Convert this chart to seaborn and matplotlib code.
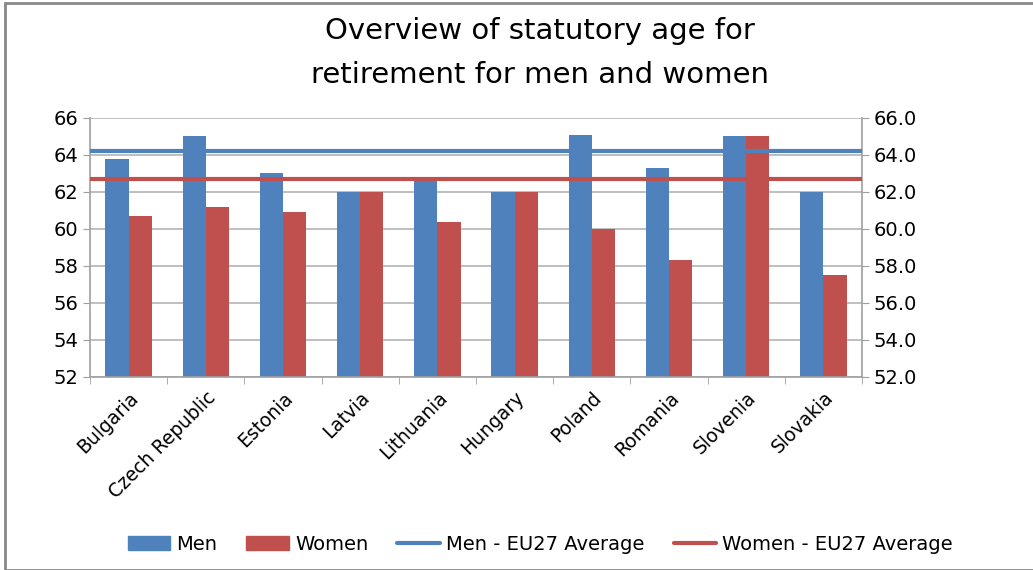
import numpy as np
import pandas as pd
import matplotlib
matplotlib.use("Agg")
import matplotlib.pyplot as plt
from matplotlib.patches import Patch, Rectangle
from matplotlib.lines import Line2D
import seaborn as sns

countries = ['Bulgaria', 'Czech Republic', 'Estonia', 'Latvia', 'Lithuania',
             'Hungary', 'Poland', 'Romania', 'Slovenia', 'Slovakia']
men = [63.8, 65.0, 63.0, 62.0, 62.8, 62.0, 65.1, 63.3, 65.0, 62.0]
women = [60.7, 61.2, 60.9, 62.0, 60.4, 62.0, 60.0, 58.3, 65.0, 57.5]
men_eu27 = 64.2
women_eu27 = 62.7

blue = '#4F81BD'
red = '#C0504D'

df = pd.DataFrame({'Country': countries * 2,
                   'Age': men + women,
                   'Sex': ['Men'] * len(countries) + ['Women'] * len(countries)})

sns.set_style('white')
plt.rcParams['font.family'] = ['DejaVu Sans']
plt.rcParams['text.color'] = 'black'
plt.rcParams['xtick.color'] = 'black'
plt.rcParams['ytick.color'] = 'black'

fig = plt.figure(figsize=(10.33, 5.70), dpi=100)
ax = fig.add_axes([0.0871, 0.3386, 0.7474, 0.4544])

sns.barplot(data=df, x='Country', y='Age', hue='Sex', palette=[blue, red],
            width=0.6, ax=ax, legend=False, saturation=1, linewidth=0, edgecolor='none')

ax.axhline(men_eu27, color=blue, lw=3, zorder=5)
ax.axhline(women_eu27, color=red, lw=3, zorder=5)

ax.set_ylim(52, 66)
ax.set_xlim(-0.5, len(countries) - 0.5)
ax.set_yticks(np.arange(52, 67, 2))
ax.yaxis.grid(True, color='#B4B4B4', lw=1.2)
ax.set_axisbelow(True)
ax.set_xlabel('')
ax.set_ylabel('')
ax.tick_params(axis='y', labelsize=14, length=5, color='#A0A0A0', labelcolor='black', left=True)
ax.set_xticks(range(len(countries)))
ax.set_xticklabels(countries, rotation=45, ha='right', rotation_mode='anchor', fontsize=13.5)
ax.tick_params(axis='x', length=0, pad=8, labelcolor='black')
ax.set_xticks(np.arange(-0.5, len(countries), 1), minor=True)
ax.tick_params(axis='x', which='minor', length=5, color='#A0A0A0', bottom=True)
for s in ['left', 'bottom', 'right']:
    ax.spines[s].set_color('#A0A0A0')
    ax.spines[s].set_linewidth(1.2)
ax.spines['top'].set_visible(False)

ax2 = ax.twinx()
ax2.set_ylim(52, 66)
ax2.set_yticks(np.arange(52, 67, 2))
ax2.set_yticklabels([f'{v:.1f}' for v in np.arange(52, 67, 2)])
ax2.tick_params(axis='y', labelsize=14, length=5, color='#A0A0A0', labelcolor='black', right=True)
for s in ax2.spines.values():
    s.set_visible(False)

fig.text(0.523, 0.945, 'Overview of statutory age for', ha='center', va='center',
         fontsize=21, color='black')
fig.text(0.523, 0.868, 'retirement for men and women', ha='center', va='center',
         fontsize=21, color='black')

handles = [Patch(color=blue, label='Men'),
           Patch(color=red, label='Women'),
           Line2D([], [], color=blue, lw=3, label='Men - EU27 Average'),
           Line2D([], [], color=red, lw=3, label='Women - EU27 Average')]
fig.legend(handles=handles, loc='center', bbox_to_anchor=(0.523, 0.045), ncol=4,
           frameon=False, fontsize=14, handlelength=2.2, columnspacing=1.5,
           handletextpad=0.3, labelcolor='black')

fig.patches.append(Rectangle((0.005, 0.0), 1.2, 0.995, transform=fig.transFigure,
                             fill=False, edgecolor='#888888', lw=2))

fig.savefig('out.png', dpi=100)
